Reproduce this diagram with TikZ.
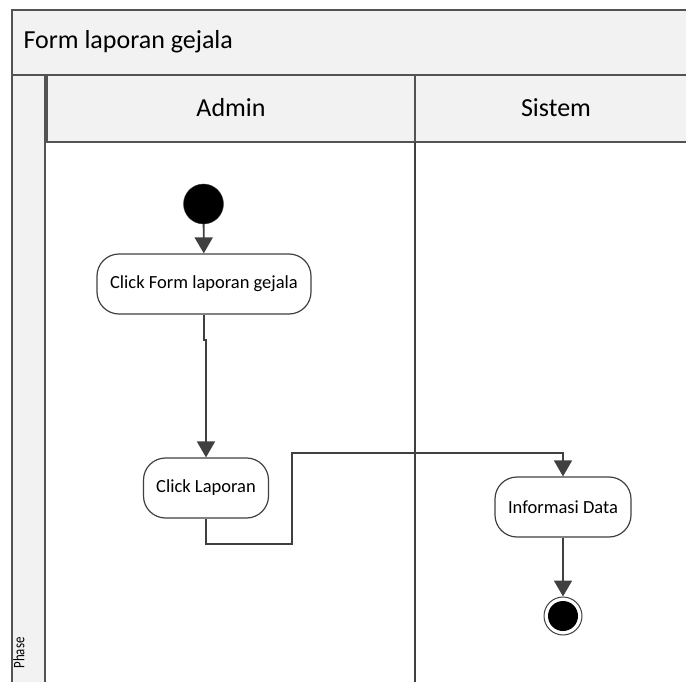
\documentclass[tikz,border=0pt]{standalone}
\usepackage{fontspec}
\setmainfont{Carlito}
\usetikzlibrary{arrows.meta}

\definecolor{lanegray}{HTML}{F2F2F2}
\definecolor{linegray}{HTML}{404040}

\begin{document}
\begin{tikzpicture}[x=1pt,y=-1pt,
    lane/.style={draw=linegray!90, line width=1.3pt, fill=lanegray},
    act/.style={draw=linegray, line width=1.2pt, rounded corners=22pt, fill=white,
        minimum height=60pt, inner sep=0pt, font=\fontsize{18.5}{22}\selectfont},
    head/.style={font=\fontsize{26}{30}\selectfont},
    flow/.style={draw=linegray, line width=1.8pt, -{Triangle[length=16pt,width=18pt]}}]

    \useasboundingbox (0,0) rectangle (686,682);

    % pool, phase column and lanes
    \filldraw[lane] (12,10) rectangle (700,75);
    \filldraw[lane] (12,75) rectangle (45,700);
    \filldraw[lane] (47,75) rectangle (415,142);
    \filldraw[lane] (415,75) rectangle (700,142);
    \draw[linegray, line width=1.3pt] (415,142) -- (415,700);

    \node[head, anchor=west] (title) at (20,42) {Form laporan gejala};
    \node[head] (admin) at (231,108) {Admin};
    \node[head] (sistem) at (556,108) {Sistem};
    \node[rotate=90, xscale=0.8, font=\fontsize{16}{18}\selectfont] (phase) at (19,653) {Phase};

    % activities
    \node[circle, fill=black, draw=linegray, minimum size=40pt, inner sep=0pt] (start) at (203.5,204) {};
    \node[act, minimum width=214pt] (clickform) at (204,284) {Click Form laporan gejala};
    \node[act, minimum width=125pt] (clicklap) at (206,488) {Click Laporan};
    \node[act, minimum width=136pt] (info) at (563,507) {Informasi Data};
    \node[circle, draw=linegray, line width=1pt, fill=white, minimum size=38pt, inner sep=0pt] (end) at (563,616) {};
    \fill (end.center) circle (15pt);

    \coordinate (bend) at (292,453);

    \draw[flow] (start) -- (clickform);
    \draw[flow] (clickform.south) -- ++(0,25) -| (clicklap.north);
    \draw[flow] (clicklap.south) -- ++(0,25) -| (bend) -| (info.north);
    \draw[flow] (info) -- (end);

\end{tikzpicture}
\end{document}
